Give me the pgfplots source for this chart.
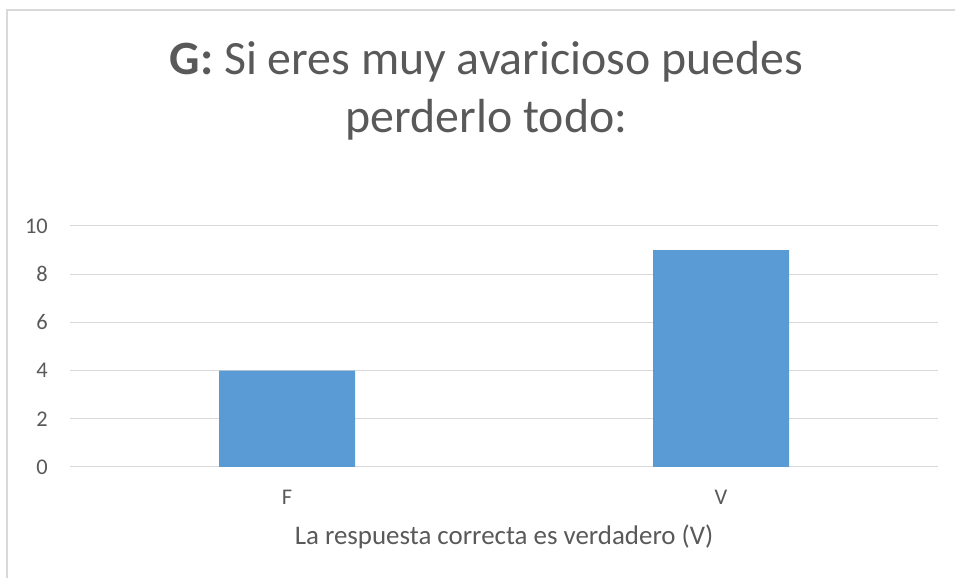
\documentclass[border=0pt]{standalone}
\usepackage{pgfplots}
\pgfplotsset{compat=1.18}
\usepackage{fontspec}
\setmainfont{Carlito}
\definecolor{barblue}{HTML}{5B9BD5}
\definecolor{txt}{HTML}{595959}
\definecolor{gridgray}{HTML}{D9D9D9}
\begin{document}
\begin{tikzpicture}[x=1bp,y=1bp]
\useasboundingbox (0,0) rectangle (955,578);
\draw[gridgray,line width=1.5bp] (7,0) -- (7,568) -- (955,568);
\node[text=txt,font=\fontsize{48}{58}\selectfont,anchor=base,inner sep=0pt] at (486.5,503) {\textbf{G:} Si eres muy avaricioso puedes};
\node[text=txt,font=\fontsize{48}{58}\selectfont,anchor=base,inner sep=0pt] at (486.5,445) {perderlo todo:};
\begin{axis}[
  at={(70bp,111bp)}, anchor=south west,
  scale only axis, width=868bp, height=241bp,
  xmin=-0.5, xmax=1.5, ymin=0, ymax=10,
  xtick={0,1}, xticklabels={F,V},
  ytick={0,2,4,6,8,10},
  ymajorgrids, xmajorgrids=false,
  grid style={draw=gridgray, line width=1bp},
  axis line style={draw=none},
  major tick length=0pt,
  tick label style={text=txt, font=\fontsize{22.5}{27}\selectfont, inner sep=0pt},
  /pgf/number format/assume math mode=true,
  yticklabel style={anchor=east, xshift=-22bp},
  xticklabel style={anchor=base, yshift=-38bp},
  xlabel={La respuesta correcta es verdadero (V)},
  xlabel style={text=txt, font=\fontsize{27}{32}\selectfont, inner sep=0pt,
    at={(axis description cs:0.5,0)}, anchor=base, yshift=-78bp},
]
\draw[gridgray, line width=1bp] (axis cs:-0.5,0) -- (axis cs:1.5,0);
\addplot[ybar, bar width=136bp, fill=barblue, draw=none] coordinates {(0,4) (1,9)};
\end{axis}
\end{tikzpicture}
\end{document}
